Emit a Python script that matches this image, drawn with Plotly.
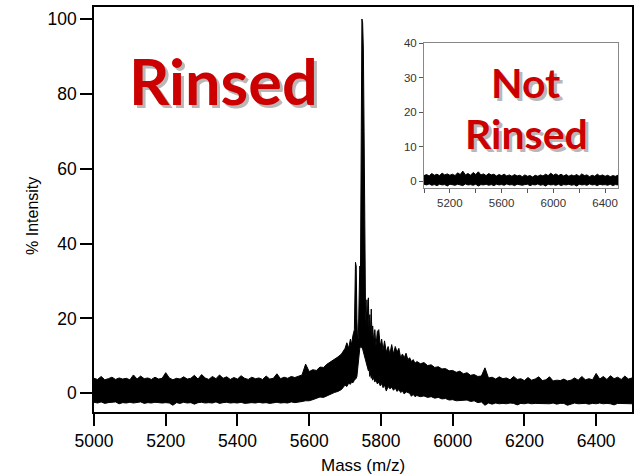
import plotly.graph_objects as go

# ---------------- main spectrum (Rinsed) : upper / lower edges of the noise band ----------------
mz_left = list(range(5000, 5700, 10))
upper_left = [4.0,3.7,4.5,3.6,3.9,4.3,3.7,4.1,3.8,4.0,
              3.6,4.9,3.8,4.6,3.9,4.1,3.7,4.3,3.8,4.0,
              5.5,4.1,3.6,4.0,3.8,4.4,3.8,4.0,4.8,3.8,
              5.0,4.1,3.7,4.5,3.9,4.9,4.0,4.4,3.7,4.2,
              3.8,4.7,4.0,3.7,4.3,3.9,4.1,3.7,4.6,3.8,
              4.0,5.2,3.9,4.3,4.0,4.5,4.2,4.5,4.9,7.8,
              5.8,6.3,6.1,7.0,6.9,7.8,8.4,8.9,9.7,10.5]
lower_left = [-2.4,-2.6,-2.3,-2.7,-2.5,-2.5,-2.3,-2.8,-2.5,-2.6,
              -2.4,-2.6,-2.5,-2.3,-2.7,-2.5,-2.6,-2.4,-2.5,-2.6,
              -2.5,-2.6,-3.2,-2.5,-2.7,-2.4,-2.6,-2.5,-2.9,-2.5,
              -2.4,-2.6,-2.5,-2.6,-2.3,-2.7,-2.5,-2.4,-2.6,-2.5,
              -2.6,-2.4,-2.7,-2.5,-2.5,-2.6,-2.4,-2.6,-2.5,-2.7,
              -2.5,-2.4,-2.6,-2.5,-2.6,-2.3,-2.5,-2.4,-2.2,-2.0,
              -2.0,-1.7,-1.4,-1.0,-1.1,-0.6,-0.3,0.2,0.5,1.0]

mz_peak = [5700,5705,5710,5715,5718,5722,5726,5729,5731,5733,
           5735,5737,5739,5741,5743,5745,5747,5749,5751,5753,
           5755,5757,5759,5761,5763,5765,5767,5769,5771,5773,
           5775,5777,5780,5783,5786,5790,5794,5798,5802,5806,
           5810,5815,5820,5825,5830,5835,5840,5845,5850,5855,
           5860,5865,5870,5875,5880,5885,5890,5895]
upper_peak = [12.0,13.5,12.0,14.5,13.0,15.5,17.0,35.0,34.0,20.0,
              14.0,15.0,28.0,34.0,33.0,76.0,100.0,99.0,92.0,70.0,
              42.0,22.0,18.0,25.0,20.0,25.5,16.0,21.0,15.5,22.5,
              15.0,18.0,13.5,17.0,12.5,16.5,17.0,12.5,14.5,11.5,
              14.0,11.0,12.5,10.5,13.0,10.5,12.5,11.0,12.0,9.5,
              10.5,9.5,10.7,9.0,9.5,8.5,9.0,8.0]
lower_peak = [2.2,1.8,2.7,2.4,3.0,2.8,3.5,3.8,4.0,4.5,
              6.5,8.5,10.5,12.0,12.4,12.4,12.2,11.8,11.0,10.2,
              9.5,8.8,8.0,7.5,7.0,6.0,6.5,4.5,5.5,4.0,
              4.8,3.5,4.2,3.0,3.6,2.5,3.0,2.0,2.6,1.5,
              2.2,0.6,1.8,1.2,1.6,0.8,1.4,0.5,1.0,0.2,
              0.6,-0.2,0.4,0.3,0.0,-0.8,-0.3,-0.9]

mz_right = list(range(5900, 6501, 10))
upper_right = [8.5,7.9,8.2,7.4,7.6,6.9,7.1,6.5,6.6,6.0,
               6.1,5.6,5.9,5.2,5.5,4.8,5.0,4.5,4.6,6.8,
               4.1,4.3,3.8,4.4,3.9,4.1,3.6,4.5,3.7,3.9,
               3.4,4.2,3.5,3.8,4.4,3.4,3.6,4.4,3.3,3.5,
               3.4,3.8,3.3,3.5,4.1,3.5,4.5,3.6,3.9,3.6,
               5.3,3.8,4.5,3.7,4.7,3.9,4.3,3.7,4.6,3.8,
               4.1]
lower_right = [-0.6,-0.9,-0.7,-1.1,-0.9,-1.3,-1.1,-1.5,-1.4,-1.8,
               -1.7,-2.0,-1.9,-2.0,-1.8,-2.2,-2.0,-2.5,-2.3,-3.2,
               -2.6,-2.9,-2.6,-2.8,-2.7,-2.8,-2.6,-2.7,-3.1,-2.7,
               -2.8,-2.6,-2.8,-2.7,-2.7,-2.9,-2.7,-2.8,-2.6,-2.9,
               -2.7,-2.7,-3.2,-2.8,-2.6,-2.8,-2.7,-2.7,-2.9,-2.7,
               -2.8,-2.6,-2.8,-2.7,-2.8,-3.1,-2.7,-2.7,-2.8,-2.7,
               -2.8]

# ---------------- inset spectrum (Not Rinsed) ----------------
mz_inset = list(range(5000, 6501, 20))
upper_inset = [1.6,1.9,1.5,2.2,1.7,2.0,1.6,2.3,1.8,2.1,
               1.7,2.0,1.6,2.4,1.9,2.9,1.8,2.2,1.7,2.5,
               1.9,2.7,1.8,2.1,1.6,2.2,1.8,2.0,1.5,1.9,
               1.6,2.0,1.5,1.8,1.4,1.9,1.5,1.7,1.3,1.8,
               1.4,1.6,1.2,1.7,1.4,1.8,1.5,2.0,1.6,2.3,
               1.7,2.1,1.6,2.0,1.5,1.9,1.4,1.8,1.5,1.9,
               1.4,2.1,1.6,1.8,1.3,1.7,1.4,2.0,1.5,1.8,
               1.4,1.7,1.3,1.6,1.4,1.7]
lower_inset = [-0.9,-1.1,-0.8,-1.2,-1.0,-1.3,-0.9,-1.1,-1.0,-1.4,
               -0.9,-1.1,-1.2,-0.9,-1.0,-1.3,-0.8,-1.1,-1.0,-1.2,
               -0.9,-1.4,-1.0,-1.1,-0.9,-1.2,-1.0,-1.3,-0.9,-1.1,
               -1.0,-1.2,-0.8,-1.1,-1.0,-1.3,-0.9,-1.1,-1.2,-1.0,
               -0.9,-1.3,-1.0,-1.1,-0.8,-1.2,-1.0,-1.4,-0.9,-1.1,
               -1.0,-1.2,-0.9,-1.3,-1.0,-1.1,-0.9,-1.2,-1.0,-1.4,
               -0.9,-1.1,-1.0,-1.2,-0.8,-1.1,-1.0,-1.3,-0.9,-1.1,
               -1.0,-1.2,-0.9,-1.3,-1.0,-1.1]

main_xticks = [5000, 5200, 5400, 5600, 5800, 6000, 6200, 6400]
main_yticks = [0, 20, 40, 60, 80, 100]
inset_xticks = [5000, 5200, 5400, 5600, 5800, 6000, 6200, 6400]
inset_xlabels = ["", "5200", "", "5600", "", "6000", "", "6400"]
inset_yticks = [0, 10, 20, 30, 40]

mz_main = mz_left + mz_peak + mz_right
upper_main = upper_left + upper_peak + upper_right
lower_main = lower_left + lower_peak + lower_right
assert len(mz_main) == len(upper_main) == len(lower_main)
assert len(mz_inset) == len(upper_inset) == len(lower_inset)

fig = go.Figure()
fig.add_trace(go.Scatter(x=mz_main, y=lower_main, mode="lines",
                         line=dict(color="black", width=1), showlegend=False,
                         hoverinfo="skip", xaxis="x", yaxis="y"))
fig.add_trace(go.Scatter(x=mz_main, y=upper_main, mode="lines", fill="tonexty",
                         fillcolor="black", line=dict(color="black", width=1),
                         showlegend=False, xaxis="x", yaxis="y"))
fig.add_trace(go.Scatter(x=mz_inset, y=lower_inset, mode="lines",
                         line=dict(color="black", width=1), showlegend=False,
                         hoverinfo="skip", xaxis="x2", yaxis="y2"))
fig.add_trace(go.Scatter(x=mz_inset, y=upper_inset, mode="lines", fill="tonexty",
                         fillcolor="black", line=dict(color="black", width=1),
                         showlegend=False, xaxis="x2", yaxis="y2"))

tickfont = dict(family="Liberation Sans, Arial", size=17.5, color="black")
inset_font = dict(family="Liberation Sans, Arial", size=11.5, color="#333333")

fig.update_layout(
    template="none",
    width=637, height=476,
    margin=dict(l=94, r=5, t=7, b=64),
    paper_bgcolor="white", plot_bgcolor="white",
    xaxis=dict(range=[5000, 6500], tickvals=main_xticks, ticks="outside",
               ticklen=12, tickwidth=1.5, tickcolor="black", showline=True,
               linewidth=1.5, linecolor="black", mirror=True, showgrid=False,
               zeroline=False, tickfont=tickfont, automargin=False),
    yaxis=dict(range=[-5, 103.2], tickvals=main_yticks, ticks="outside",
               ticklen=12, tickwidth=1.5, tickcolor="black", showline=True,
               linewidth=1.5, linecolor="black", mirror=True, showgrid=False,
               zeroline=False, tickfont=tickfont, automargin=False),
    xaxis2=dict(domain=[0.6134, 0.974], anchor="y2", range=[5000, 6500],
                tickvals=inset_xticks, ticktext=inset_xlabels, ticks="outside",
                ticklen=4, tickwidth=1, tickcolor="#555555", showline=True,
                linewidth=1, linecolor="#888888", mirror=True, showgrid=False,
                zeroline=False, tickfont=inset_font, automargin=False),
    yaxis2=dict(domain=[0.553, 0.911], anchor="x2", range=[-2, 40],
                tickvals=inset_yticks, ticks="outside", ticklen=4, tickwidth=1,
                tickcolor="#555555", showline=True, linewidth=1,
                linecolor="#888888", mirror=True, showgrid=False,
                zeroline=False, tickfont=inset_font, automargin=False),
)

label_font = dict(family="Liberation Sans, Arial", size=16, color="black")
fig.add_annotation(text="% Intensity", xref="paper", yref="paper",
                   x=-0.1134, y=0.484, textangle=-90, showarrow=False,
                   xanchor="center", yanchor="middle", font=label_font)
fig.add_annotation(text="Mass (m/z)", xref="paper", yref="paper",
                   x=0.5, y=-0.1333, showarrow=False,
                   xanchor="center", yanchor="middle",
                   font=dict(family="Liberation Sans, Arial", size=17, color="black"))

def shadow_text(txt, x, y, xref, yref, size):
    fig.add_annotation(text=txt, xref=xref, yref=yref, x=x, y=y, showarrow=False,
                       xanchor="center", yanchor="middle", xshift=3, yshift=-3,
                       font=dict(family="Lato", size=size, color="#b8b8b8", weight=700))
    fig.add_annotation(text=txt, xref=xref, yref=yref, x=x, y=y, showarrow=False,
                       xanchor="center", yanchor="middle",
                       font=dict(family="Lato", size=size, color="#cc0000", weight=700))

shadow_text("Rinsed", 5361, 83.6, "x", "y", 63)
shadow_text("Not", 5789, 28.7, "x2", "y2", 41)
shadow_text("Rinsed", 5789, 13.9, "x2", "y2", 41)

fig.write_html("out.html", config={"displayModeBar": False},
               post_script="document.body.style.margin='0';document.body.style.padding='0';")
